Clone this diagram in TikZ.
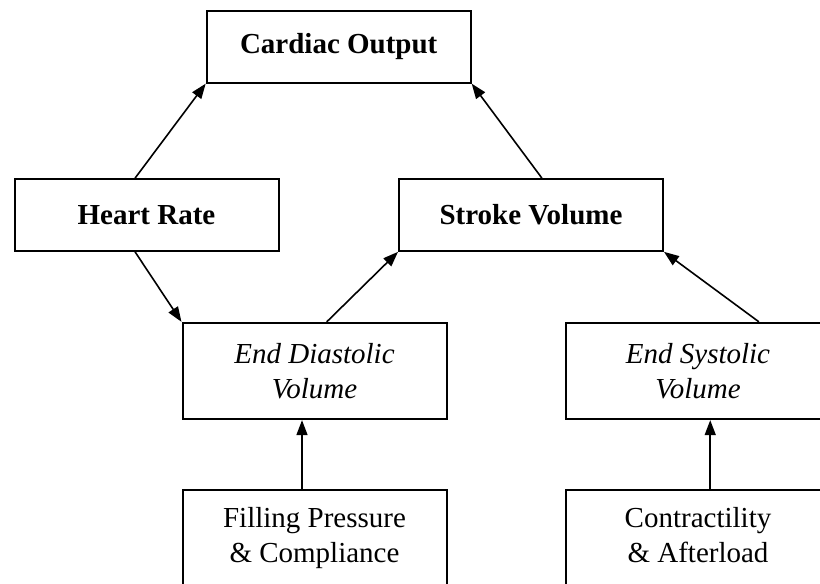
\documentclass[tikz,border=0pt]{standalone}
\usepackage{fontspec}
\setmainfont{Liberation Serif}
\usetikzlibrary{arrows.meta, calc}

\tikzset{
  box/.style={draw, line width=2pt, minimum width=264pt, minimum height=71.7pt,
    inner sep=0pt, align=center, font=\fontsize{29}{35}\selectfont},
  tallbox/.style={box, minimum height=96.3pt},
  arr/.style={line width=1.6pt, -{Triangle[length=15pt,width=11pt]}}
}

\begin{document}
\begin{tikzpicture}[x=1pt, y=-1pt]
\clip (0,0) rectangle (820,584);

% top row
\node[box] (co) at (338.7,46.8) {\textbf{Cardiac Output}};
% middle row
\node[box] (hr) at (146.5,215) {\textbf{Heart Rate}};
\node[box] (sv) at (531,215) {\textbf{Stroke Volume}};
% volumes
\node[tallbox] (edv) at (314.5,371) {\textit{End Diastolic}\\\textit{Volume}};
\node[tallbox] (esv) at (698,371) {\textit{End Systolic}\\\textit{Volume}};
% determinants
\node[tallbox] (fp) at (314.5,538) {Filling Pressure\\\& Compliance};
\node[tallbox] (ca) at (698,538) {Contractility\\\& Afterload\vphantom{p}};

\draw[arr] ($(hr.north west)!0.457!(hr.north east)$) -- (co.south west);
\draw[arr] ($(sv.north west)!0.541!(sv.north east)$) -- (co.south east);
\draw[arr] ($(hr.south west)!0.457!(hr.south east)$) -- (edv.north west);
\draw[arr] ($(edv.north west)!0.546!(edv.north east)$) -- (sv.south west);
\draw[arr] ($(esv.north west)!0.729!(esv.north east)$) -- (sv.south east);
\draw[arr] ($(fp.north west)!0.453!(fp.north east)$) -- ($(edv.south west)!0.453!(edv.south east)$);
\draw[arr] ($(ca.north west)!0.546!(ca.north east)$) -- ($(esv.south west)!0.546!(esv.south east)$);
\end{tikzpicture}
\end{document}
